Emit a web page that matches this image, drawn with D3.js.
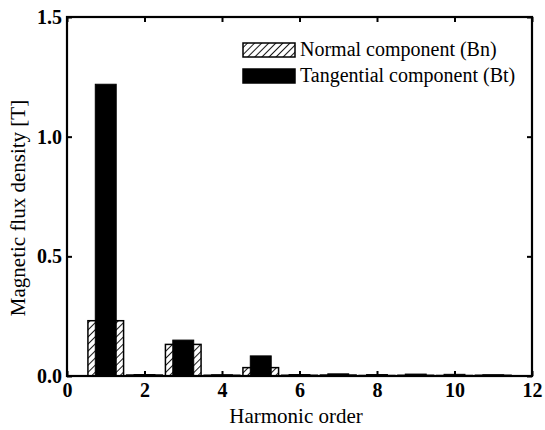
<!DOCTYPE html>
<html>
<head>
<meta charset="utf-8">
<script src="https://cdn.jsdelivr.net/npm/d3@7"></script>
</head>
<body style="margin:0;padding:0;background:#fff">
<div id="root"></div>
<script>
// ---- data ----
const harmonics = [1, 2, 3, 4, 5, 6, 7, 8, 9, 10, 11];
const normalBn = [0.231, 0.004, 0.132, 0.003, 0.035, 0.003, 0.004, 0.002, 0.003, 0.002, 0.003];
const tangentialBt = [1.219, 0.006, 0.150, 0.005, 0.084, 0.006, 0.009, 0.006, 0.008, 0.007, 0.005];
const xTicks = [0, 2, 4, 6, 8, 10, 12];
const yTicks = [0.0, 0.5, 1.0, 1.5];
const seriesNames = ["Normal component (Bn)", "Tangential component (Bt)"];

// ---- layout ----
const FF = "Liberation Serif";
const svg = d3.select("#root").append("svg")
  .attr("width", 545).attr("height", 430).style("display", "block");
const L = 67, R = 532, T = 17, B = 376;
const x = d3.scaleLinear().domain([0, 12]).range([L, R]);
const y = d3.scaleLinear().domain([0, 1.5]).range([B, T]);

const defs = svg.append("defs");
const pat = defs.append("pattern")
  .attr("id", "hatch").attr("patternUnits", "userSpaceOnUse")
  .attr("width", 5).attr("height", 5)
  .attr("patternTransform", "rotate(45)");
pat.append("rect").attr("width", 5).attr("height", 5).attr("fill", "#fff");
pat.append("line").attr("x1", 0).attr("y1", 0).attr("x2", 0).attr("y2", 5)
  .attr("stroke", "#000").attr("stroke-width", 1.8);

const wBn = 0.92, wBt = 0.54;

// Bn bars (hatched)
svg.append("g").selectAll("rect").data(harmonics).join("rect")
  .attr("x", (d) => x(d - wBn / 2))
  .attr("width", x(wBn) - x(0))
  .attr("y", (d, i) => y(normalBn[i]))
  .attr("height", (d, i) => B - y(normalBn[i]))
  .attr("fill", "url(#hatch)")
  .attr("stroke", "#000").attr("stroke-width", 1.5);

// Bt bars (black)
svg.append("g").selectAll("rect").data(harmonics).join("rect")
  .attr("x", (d) => x(d - wBt / 2))
  .attr("width", x(wBt) - x(0))
  .attr("y", (d, i) => y(tangentialBt[i]))
  .attr("height", (d, i) => B - y(tangentialBt[i]))
  .attr("fill", "#000").attr("stroke", "#000").attr("stroke-width", 1);

// frame
svg.append("rect").attr("x", L).attr("y", T).attr("width", R - L).attr("height", B - T)
  .attr("fill", "none").attr("stroke", "#000").attr("stroke-width", 2.2);

// axes with inward ticks
const axB = svg.append("g").attr("transform", `translate(0,${B})`)
  .call(d3.axisBottom(x).tickValues(xTicks).tickSize(-5).tickPadding(7).tickFormat(d3.format("d")));
const axT = svg.append("g").attr("transform", `translate(0,${T})`)
  .call(d3.axisTop(x).tickValues(xTicks).tickSize(-5).tickFormat(""));
const axL = svg.append("g").attr("transform", `translate(${L},0)`)
  .call(d3.axisLeft(y).tickValues(yTicks).tickSize(-5).tickPadding(5).tickFormat(d3.format(".1f")));
const axR = svg.append("g").attr("transform", `translate(${R},0)`)
  .call(d3.axisRight(y).tickValues(yTicks).tickSize(-5).tickFormat(""));
[axB, axT, axL, axR].forEach(a => {
  a.attr("font-family", FF).attr("font-size", 20).attr("font-weight", "bold");
  a.select(".domain").remove();
  a.selectAll(".tick line").attr("stroke", "#000").attr("stroke-width", 2);
  a.selectAll("text").attr("fill", "#000");
});

// axis titles
svg.append("text").attr("x", 296).attr("y", 423)
  .attr("text-anchor", "middle")
  .attr("font-family", FF).attr("font-size", 21).attr("fill", "#000")
  .text("Harmonic order");
svg.append("text").attr("transform", "translate(25,208) rotate(-90)")
  .attr("text-anchor", "middle")
  .attr("font-family", FF).attr("font-size", 21).attr("fill", "#000")
  .text("Magnetic flux density [T]");

// legend
const lg = svg.append("g");
const rows = [{fill: "url(#hatch)", y: 50}, {fill: "#000", y: 76}];
rows.forEach((r, i) => {
  lg.append("rect").attr("x", 243).attr("y", r.y - 7).attr("width", 52).attr("height", 14)
    .attr("fill", r.fill).attr("stroke", "#000").attr("stroke-width", 1.5);
  lg.append("text").attr("x", 300).attr("y", r.y + 6)
    .attr("font-family", FF).attr("font-size", 20).attr("fill", "#000")
    .text(seriesNames[i]);
});
</script>
</body>
</html>
